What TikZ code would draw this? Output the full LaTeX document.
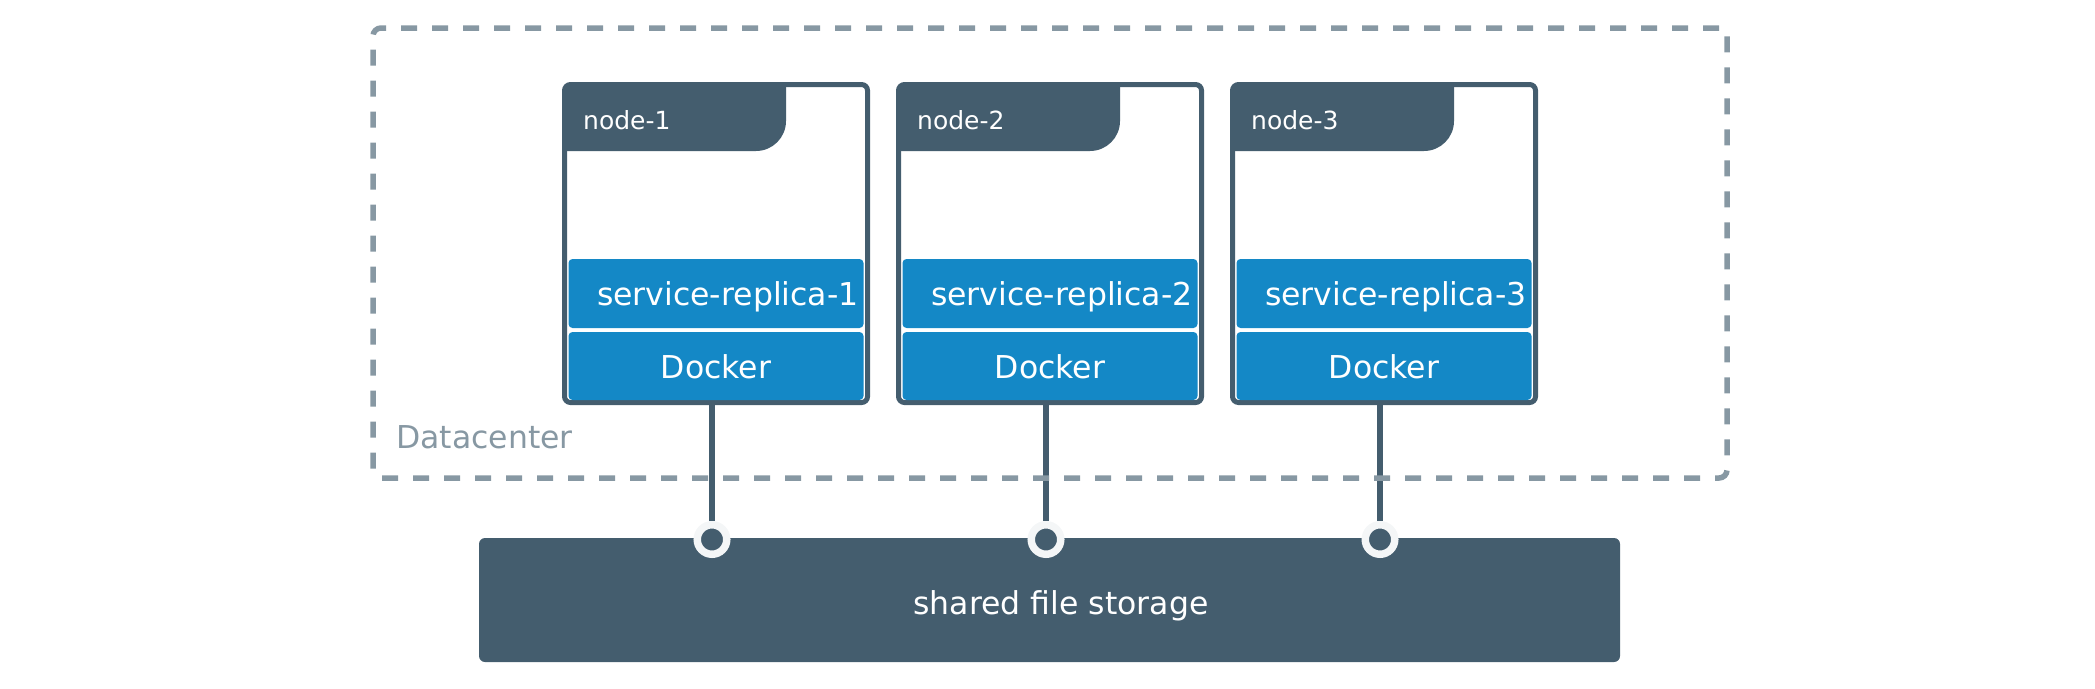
\documentclass[tikz,border=0pt]{standalone}
\usepackage{fontspec}
\setmainfont{DejaVu Sans}
\usetikzlibrary{positioning}
\definecolor{slate}{HTML}{445D6E}
\definecolor{dockerblue}{HTML}{1488C6}
\definecolor{dcgray}{HTML}{8798A3}
\definecolor{ringwhite}{HTML}{F4F6F7}

\begin{document}
\begin{tikzpicture}[x = 1pt, y = -1pt]
        \tikzset{
            frame/.style   = {draw = dcgray, line width = 5.5pt, dash pattern = on 16pt off 15pt, rounded corners = 8pt, minimum width = 1354pt, minimum height = 450pt, inner sep = 0pt},
            host/.style    = {draw = slate, fill = white, line width = 5pt, rounded corners = 6pt, minimum width = 303pt, minimum height = 318pt, inner sep = 0pt, outer sep = 0pt},
            header/.style  = {fill = slate},
            bar/.style     = {fill = dockerblue, text = white, rounded corners = 4pt, text height = 24pt, text depth = 0pt, font = \fontsize{31.5}{38}\selectfont, inner xsep = 5pt, outer sep = 0pt},
            service/.style = {bar, minimum height = 69pt, text width = 285pt, align = right},
            docker/.style  = {bar, minimum height = 68pt, minimum width = 295pt},
            title/.style   = {text = white, font = \fontsize{25}{30}\selectfont, inner sep = 0pt, anchor = base west},
            storage/.style = {fill = slate, rounded corners = 6pt, minimum width = 1141pt, minimum height = 124pt},
            port/.style    = {circle, draw = ringwhite, fill = slate, line width = 7.5pt, minimum size = 29.5pt, inner sep = 0pt},
            link/.style    = {draw = slate, line width = 6pt}
        }
        \useasboundingbox (0,0) rectangle (2095,688);

        \node[host] (N1) at (716,243.5) {};
        \node[host] (N2) at (1050,243.5) {};
        \node[host] (N3) at (1384,243.5) {};

        \fill[header, shift = {(N1.north west)}] (2.5,2.5) -- (221.5,2.5) -- (221.5,36.5) arc[start angle = 0, end angle = -90, radius = 30pt] -- (2.5,66.5) -- cycle;
        \fill[header, shift = {(N2.north west)}] (2.5,2.5) -- (221.5,2.5) -- (221.5,36.5) arc[start angle = 0, end angle = -90, radius = 30pt] -- (2.5,66.5) -- cycle;
        \fill[header, shift = {(N3.north west)}] (2.5,2.5) -- (221.5,2.5) -- (221.5,36.5) arc[start angle = 0, end angle = -90, radius = 30pt] -- (2.5,66.5) -- cycle;
        \node[title] (T1) at (583,129) {node-1};
        \node[title] (T2) at (917,129) {node-2};
        \node[title] (T3) at (1251,129) {node-3};

        \node[docker, above = 2.5pt of N1.south] (D1) {Docker};
        \node[docker, above = 2.5pt of N2.south] (D2) {Docker};
        \node[docker, above = 2.5pt of N3.south] (D3) {Docker};
        \node[service, above = 4pt of D1] (S1) {service-replica-1};
        \node[service, above = 4pt of D2] (S2) {service-replica-2};
        \node[service, above = 4pt of D3] (S3) {service-replica-3};

        \node[storage] (FS) at (1049.5,600) {};
        \node[text = white, font = \fontsize{31.5}{38}\selectfont, anchor = base] (FSL) at (1061,614) {shared file storage};

        \node[port] (P1) at (712,539.5) {};
        \node[port] (P2) at (1046,539.5) {};
        \node[port] (P3) at (1380,539.5) {};
        \draw[link] (N1.south -| P1) -- (P1);
        \draw[link] (N2.south -| P2) -- (P2);
        \draw[link] (N3.south -| P3) -- (P3);

        \node[frame] (DC) at (1050,253) {};
        \node[text = dcgray, font = \fontsize{31.5}{38}\selectfont, inner sep = 0pt, anchor = base west] (DCL) at (396,448) {Datacenter};
    \end{tikzpicture}
\end{document}
